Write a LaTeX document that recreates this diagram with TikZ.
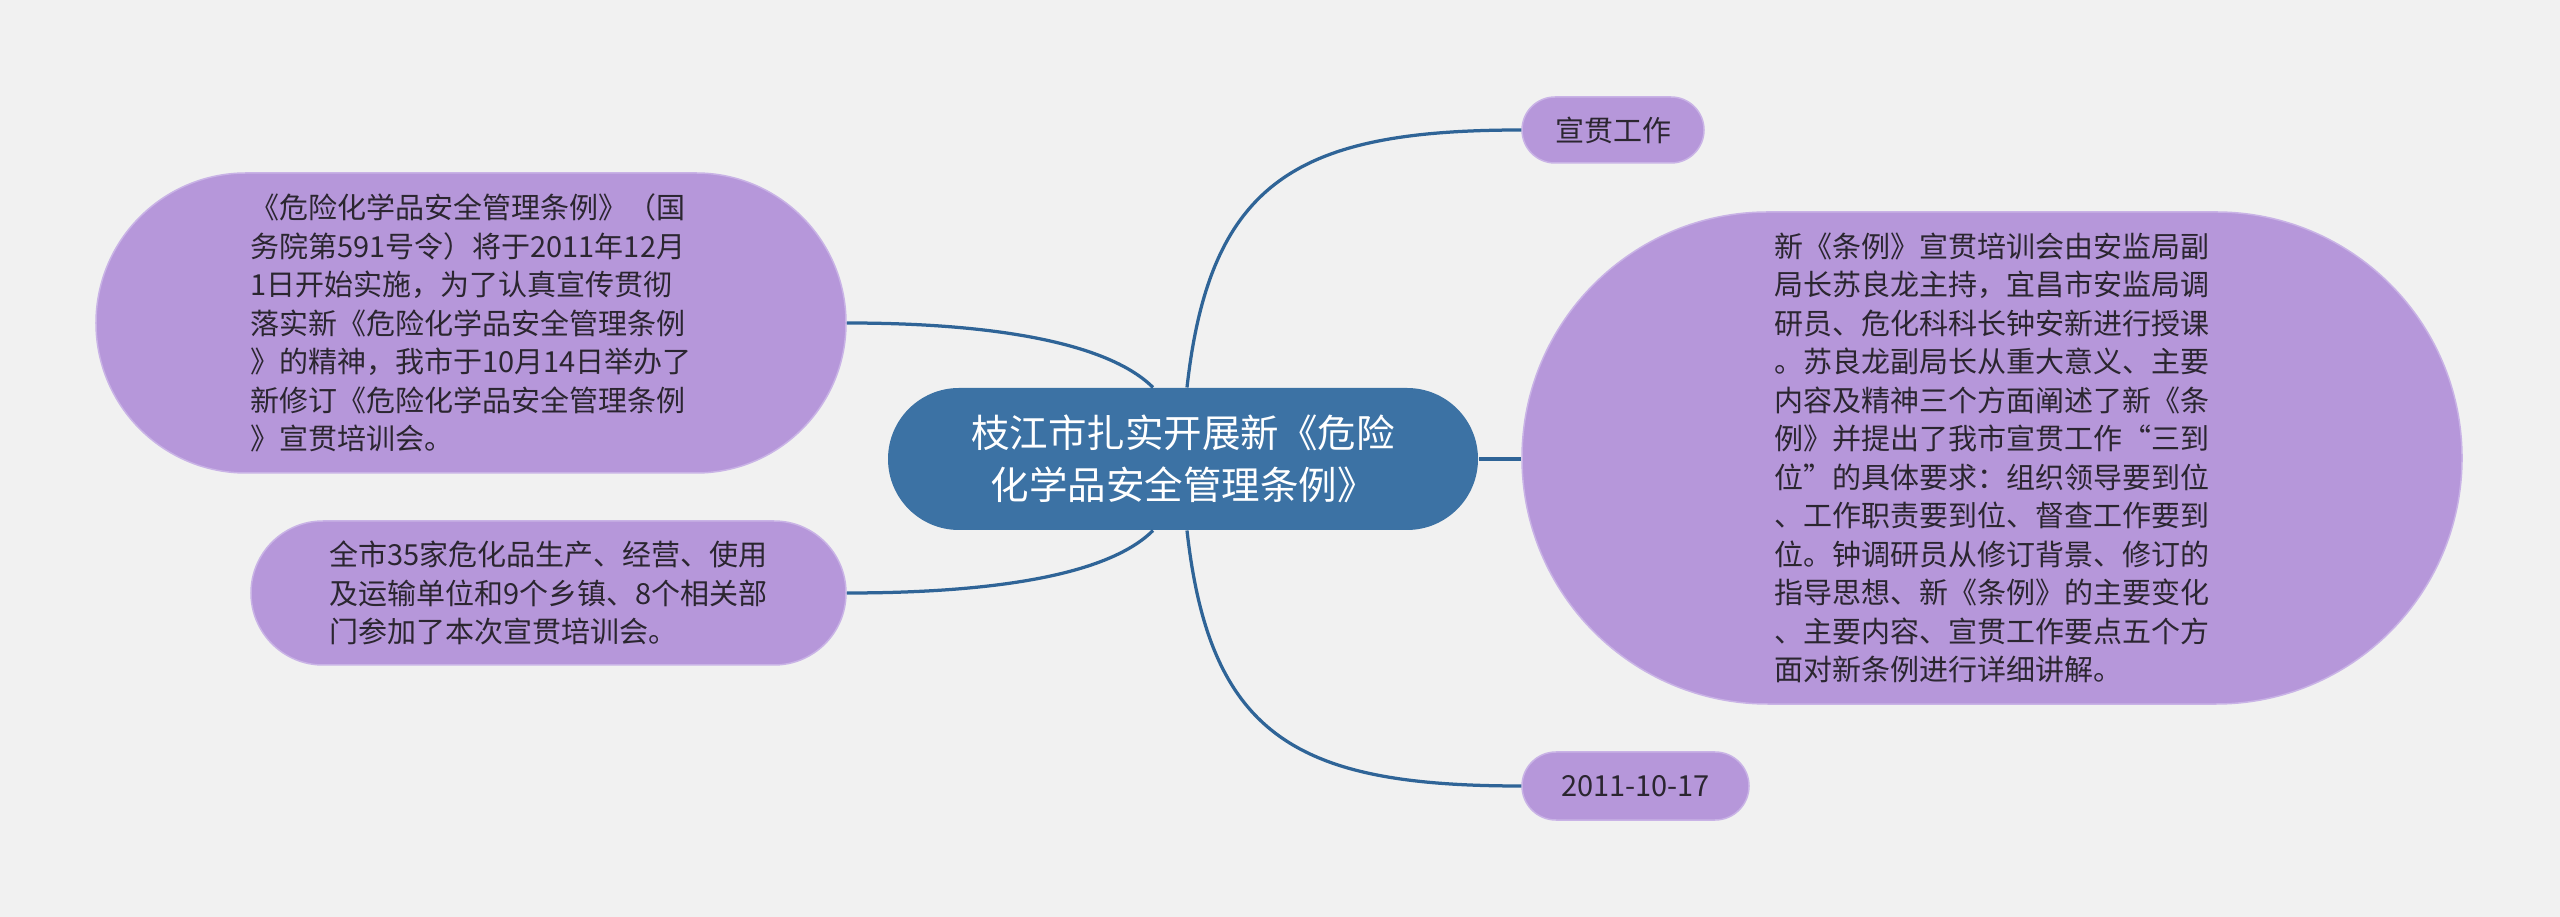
\documentclass[tikz,border=0pt]{standalone}
\usepackage{fontspec}
\setmainfont{Noto Sans CJK SC}
\usetikzlibrary{calc}
\definecolor{bgc}{HTML}{F1F1F1}
\definecolor{purp}{HTML}{B697DA}
\definecolor{purpedge}{HTML}{C9B3E6}
\definecolor{mainblue}{HTML}{3C72A4}
\definecolor{linec}{HTML}{2F6497}
\definecolor{txt}{HTML}{2B2630}
\tikzset{
  leafbox/.style={fill=purp, draw=purpedge, line width=0.6pt, inner sep=0pt, text=txt, align=left,
    font=\fontsize{11.6pt}{15.4pt}\selectfont},
  rootbox/.style={fill=mainblue, draw=none, inner sep=0pt, text=white, align=center,
    font=\fontsize{15.4pt}{20.8pt}\selectfont},
  link/.style={draw=linec, line width=1.3pt}
}
\begin{document}
\begin{tikzpicture}[x=0.4pt,y=-0.4pt]
\useasboundingbox[fill=bgc] (0,0) rectangle (2560,917);

\node[rootbox, minimum width=236pt, minimum height=56.8pt, rounded corners=28.4pt] (c) at (1183,459)
  {枝江市扎实开展新《危险\\化学品安全管理条例》};

\node[leafbox, align=center, minimum width=72.8pt, minimum height=26.4pt, rounded corners=13.2pt] (t) at (1613,130) {宣贯工作};

\node[leafbox, align=center, minimum width=90.8pt, minimum height=27.2pt, rounded corners=13.6pt] (d) at (1635.5,786) {2011-10-17};

\node[leafbox, minimum width=376pt, minimum height=196.8pt, rounded corners=98.4pt] (r) at (1992,458)
  {新《条例》宣贯培训会由安监局副\\
   局长苏良龙主持，宜昌市安监局调\\
   研员、危化科科长钟安新进行授课\\
   。苏良龙副局长从重大意义、主要\\
   内容及精神三个方面阐述了新《条\\
   例》并提出了我市宣贯工作“三到\\
   位”的具体要求：组织领导要到位\\
   、工作职责要到位、督查工作要到\\
   位。钟调研员从修订背景、修订的\\
   指导思想、新《条例》的主要变化\\
   、主要内容、宣贯工作要点五个方\\
   面对新条例进行详细讲解。};

\node[leafbox, minimum width=300pt, minimum height=120pt, rounded corners=60pt] (lt) at (471,323)
  {《危险化学品安全管理条例》（国\\
   务院第591号令）将于2011年12月\\
   1日开始实施，为了认真宣传贯彻\\
   落实新《危险化学品安全管理条例\\
   》的精神，我市于10月14日举办了\\
   新修订《危险化学品安全管理条例\\
   》宣贯培训会。};

\node[leafbox, minimum width=238pt, minimum height=57.6pt, rounded corners=28.8pt] (lb) at (548.5,593)
  {全市35家危化品生产、经营、使用\\
   及运输单位和9个乡镇、8个相关部\\
   门参加了本次宣贯培训会。};

\draw[link] ([xshift=1.6pt]c.north) .. controls +(23,-208) and +(-222,0) .. (t.west);
\draw[link] ([xshift=1.6pt]c.south) .. controls +(23,208) and +(-222,0) .. (d.west);
\draw[link] (c.east) -- (r.west |- c.east);
\draw[link] ([xshift=-12pt]c.north) .. controls +(-43,-43) and +(154,0) .. (lt.east);
\draw[link] ([xshift=-12pt]c.south) .. controls +(-43,43) and +(154,0) .. (lb.east);
\end{tikzpicture}
\end{document}
